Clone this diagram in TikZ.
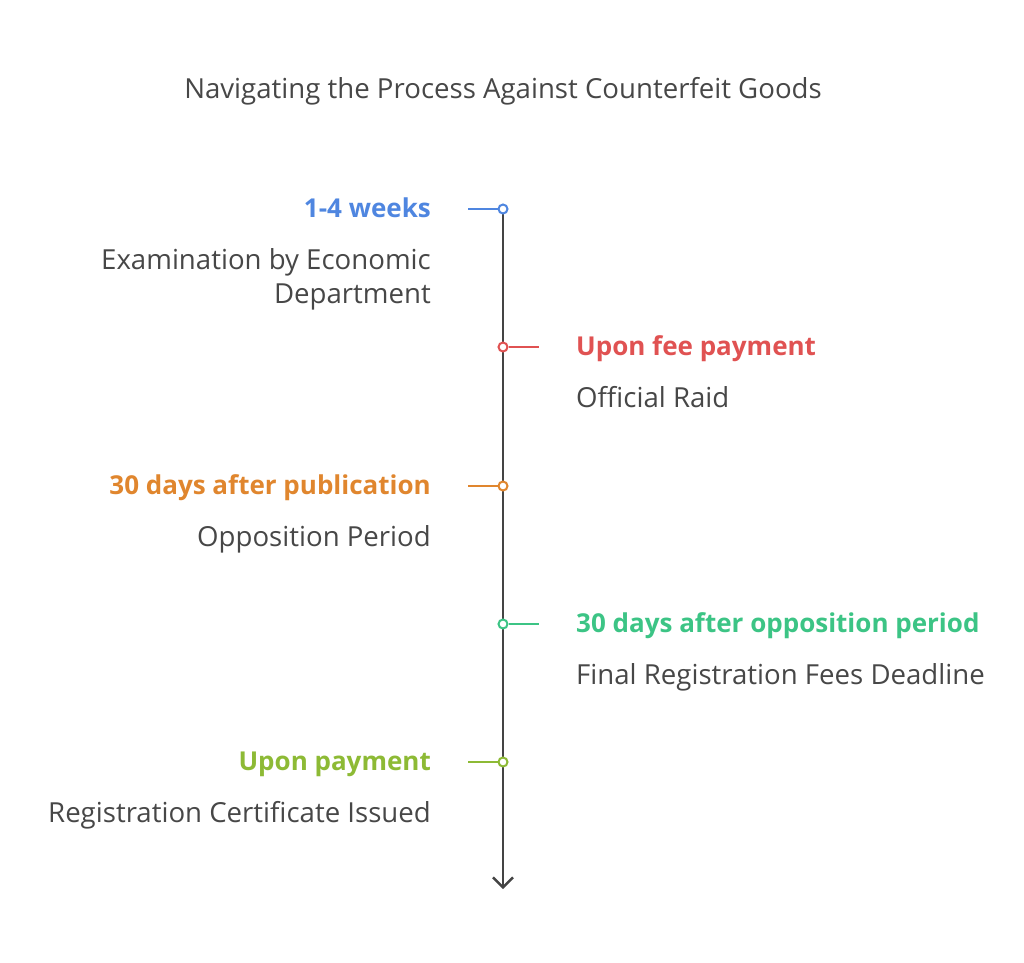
\documentclass[tikz,border=0pt]{standalone}
\usepackage{fontspec}
\setmainfont{Open Sans}
\usetikzlibrary{arrows.meta}
\definecolor{txt}{HTML}{474747}
\definecolor{axis}{HTML}{444444}
\definecolor{cblue}{HTML}{4F86E0}
\definecolor{cred}{HTML}{E05252}
\definecolor{corange}{HTML}{E0862E}
\definecolor{cgreen}{HTML}{3CC485}
\definecolor{clime}{HTML}{8DBA35}
\begin{document}
\begin{tikzpicture}[x=1pt,y=-1pt,
  title/.style={font=\fontsize{27.6}{32}\selectfont, text=txt, anchor=base, inner sep=0pt},
  head/.style={font=\fontsize{26}{30}\selectfont\bfseries, inner sep=0pt},
  desc/.style={font=\fontsize{27.6}{34}\selectfont, text=txt, inner sep=0pt, align=#1},
  lefthead/.style={head, anchor=base east},
  righthead/.style={head, anchor=base west},
  dot/.style={circle, draw=#1, fill=white, line width=2pt, minimum size=9pt, inner sep=0pt},
  tick/.style={draw=#1, line width=2pt},
  axisline/.style={draw=axis, line width=2.4pt, -{Straight Barb[length=10pt,width=20pt,line width=2.4pt]}}
]
\useasboundingbox (0,0) rectangle (1024,962);
\node[title] (t) at (503,98) {Navigating the Process Against Counterfeit Goods};

\coordinate (top) at (503,209);
\coordinate (bot) at (503,889);
\draw[axisline] (top) -- (bot);

% 1
\node[dot=cblue] (d1) at (503,209) {};
\coordinate (e1) at (468,209);
\draw[tick=cblue] (e1) -- (d1);
\node[lefthead, text=cblue] (h1) at (431,217) {1-4 weeks};
\node[desc=right, anchor=base east] (s1) at (431,303) {Examination by Economic\\Department};

% 2
\node[dot=cred] (d2) at (503,347) {};
\coordinate (e2) at (539,347);
\draw[tick=cred] (d2) -- (e2);
\node[righthead, text=cred] (h2) at (576,355) {Upon fee payment};
\node[desc=left, anchor=base west] (s2) at (576,407) {Official Raid};

% 3
\node[dot=corange] (d3) at (503,486) {};
\coordinate (e3) at (468,486);
\draw[tick=corange] (e3) -- (d3);
\node[lefthead, text=corange] (h3) at (431,494) {30 days after publication};
\node[desc=right, anchor=base east] (s3) at (431,546) {Opposition Period};

% 4
\node[dot=cgreen] (d4) at (503,624) {};
\coordinate (e4) at (539,624);
\draw[tick=cgreen] (d4) -- (e4);
\node[righthead, text=cgreen] (h4) at (576,632) {30 days after opposition period};
\node[desc=left, anchor=base west] (s4) at (576,684) {Final Registration Fees Deadline};

% 5
\node[dot=clime] (d5) at (503,762) {};
\coordinate (e5) at (468,762);
\draw[tick=clime] (e5) -- (d5);
\node[lefthead, text=clime] (h5) at (431,770) {Upon payment};
\node[desc=right, anchor=base east] (s5) at (431,822) {Registration Certificate Issued};
\end{tikzpicture}
\end{document}
